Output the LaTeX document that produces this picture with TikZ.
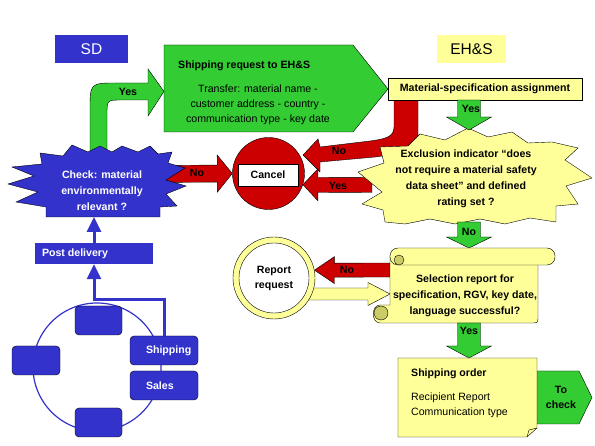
\documentclass[tikz,border=0pt]{standalone}
\usepackage{fontspec}
\setmainfont{Liberation Sans}
\usetikzlibrary{calc,positioning,arrows.meta}

\definecolor{sdblue}{RGB}{51,51,204}
\definecolor{okgreen}{RGB}{51,204,51}
\definecolor{stopred}{RGB}{204,0,0}
\definecolor{memo}{RGB}{255,255,153}
\definecolor{curl}{RGB}{204,204,102}

% block arrow: [style]{from}{to}{half shaft}{half head}{head length}
\newcommand{\barrow}[6][]{%
  \coordinate (bahead) at ($(#3)!#6!(#2)$);
  \filldraw[#1] ($(#2)!#4!90:(#3)$) -- ($(bahead)!#4!90:(#3)$) -- ($(bahead)!#5!90:(#3)$) -- (#3)
    -- ($(bahead)!#5!-90:(#3)$) -- ($(bahead)!#4!-90:(#3)$) -- ($(#2)!#4!-90:(#3)$) -- cycle;}

\tikzset{
  lbl/.style={font=\bfseries\fontsize{10.6}{16}\selectfont, inner sep=0pt, align=center},
  wlbl/.style={lbl, text=white},
  txt/.style={font=\fontsize{10.6}{15}\selectfont, inner sep=0pt, align=center},
  lane/.style={minimum height=28pt, font=\fontsize{15.5}{18}\selectfont},
  memobox/.style={draw, fill=memo},
  bluebox/.style={draw, fill=sdblue, rounded corners=4pt, minimum height=29pt},
  wire/.style={draw=sdblue, line width=3pt, -{Triangle[width=14pt,length=15pt]}},
  redarrow/.style={draw=black, fill=stopred},
  greenarrow/.style={draw=black, fill=okgreen},
  yarrow/.style={draw=black, fill=memo}
}

\begin{document}
\begin{tikzpicture}[x=1pt,y=-1pt]
\useasboundingbox (0,0) rectangle (595,446);

\node[lane, fill=sdblue, minimum width=73pt, text=white] (sd) at (91.5,49) {SD};
\node[lane, fill=memo, minimum width=69pt] (ehs) at (471.5,49) {EH\&S};

% SD cycle
\draw[sdblue, line width=1.2pt] (97,367) circle[radius=64pt];
\node[bluebox, minimum width=48pt] (lbox) at (36,360.5) {};
\node[bluebox, minimum width=47pt] (tbox) at (98.5,320.5) {};
\node[bluebox, minimum width=47pt] (bbox) at (98.5,422.5) {};
\node[bluebox, minimum width=68pt] (ship) at (164,350.5) {};
\node[bluebox, minimum width=68pt] (sales) at (164,385.5) {};
\node[wlbl, right=16pt of ship.west] {Shipping};
\node[wlbl, right=16pt of sales.west] {Sales};

\node[fill=sdblue, minimum width=118pt, minimum height=21pt] (post) at (94,253.5) {};
\node[wlbl, right=7pt of post.west] {Post delivery};
\coordinate (chkbot) at (94,217);
\draw[wire] (ship.north) -- ++(0,-36) -| (post.south);
\draw[wire] (post.north) -- (chkbot);

% shipping request
\filldraw[greenarrow] (164,45) -- (353,45) -- (388,89) -- (353,132) -- (164,132) -- cycle;
\node[lbl, anchor=west] (req) at (178,66) {Shipping request to EH\&S};
\node[txt] (reqtxt) at (258,105) {Transfer: material name -\\customer address - country -\\communication type - key date};

% cancel
\node[circle, draw, fill=stopred, minimum size=72pt, inner sep=0pt] (stop) at (268.5,173.5) {};
\node[draw, fill=white, lbl, minimum width=60pt, minimum height=22pt] (cancel) at (268,175) {Cancel};

\coordinate (no1a) at (150,174);
\barrow[redarrow]{no1a}{stop.west}{8.5pt}{18.5pt}{15pt}
\node[lbl] at (197,173) {No};

\filldraw[greenarrow] (90,160) -- (90,110) .. controls (90,83) .. (117,83) -- (148,83) -- (148,69)
  -- (164,91.5) -- (148,116) -- (148,100) -- (122,100) .. controls (107,100) .. (107,115) -- (107,160) -- cycle;
\node[lbl] at (128,92) {Yes};

% check
\filldraw[fill=sdblue, draw=black] (46,217) -- (160,217) -- (160,207) -- (177,206) -- (166,194) -- (186,186)
  -- (166,180) -- (185,168) -- (168,163) -- (172,152) -- (158,154) -- (150,146) -- (138,152) -- (122,146)
  -- (112,152) -- (100,146) -- (88,152) -- (72,145) -- (63,156) -- (40,153) -- (42,164) -- (12,167)
  -- (34,176) -- (8,184) -- (38,192) -- (16,202) -- (46,207) -- cycle;
\node[wlbl] (check) at (102,191) {Check: material\\environmentally\\relevant ?};

% EH&S
\filldraw[redarrow] (394,100) -- (394,127) .. controls (394,137) and (385,139) .. (370,141) -- (320,147)
  -- (318,139) -- (303,155) -- (320,172) -- (320,162) -- (375,157) .. controls (405,153) and (418,148) .. (418,135)
  -- (418,100) -- cycle;
\node[lbl] at (339,151) {No};
\node[memobox, lbl, minimum width=194pt, minimum height=22pt] (spec) at (485,89) {Material-specification assignment};

\coordinate (yes2a) at (372,185);
\barrow[redarrow]{yes2a}{stop.-18}{7.5pt}{16pt}{15pt}
\node[lbl] at (338,186) {Yes};

\filldraw[fill=memo, draw=black] (468,128) -- (488,137) -- (512,132) -- (528,143) -- (552,142) -- (578,148)
  -- (565,160) -- (592,178) -- (566,186) -- (578,204) -- (556,206) -- (556,222) -- (530,218) -- (505,224)
  -- (480,219) -- (455,224) -- (430,219) -- (405,224) -- (385,222) -- (383,210) -- (362,204) -- (382,192)
  -- (358,172) -- (384,163) -- (380,147) -- (408,146) -- (420,134) -- (445,140) -- cycle;
\node[lbl] (excl) at (466,179) {Exclusion indicator “does\\not require a material safety\\data sheet” and defined\\rating set ?};

\coordinate (g1a) at (469,100);
\coordinate (g1b) at (469,130);
\barrow[greenarrow]{g1a}{g1b}{11.5pt}{22.5pt}{13pt}
\node[lbl] at (471,109) {Yes};
\coordinate (g2a) at (469,222);
\coordinate (g2b) at (469,248);
\barrow[greenarrow]{g2a}{g2b}{11.5pt}{22.5pt}{11pt}
\node[lbl] at (469,232) {No};

% report request
\coordinate (reta) at (300,294);
\coordinate (retb) at (390,294);
\barrow[yarrow]{reta}{retb}{6pt}{11.5pt}{22pt}
\node[circle, draw, fill=memo, minimum size=82pt, inner sep=0pt] (rring) at (274,278) {};
\node[circle, draw, fill=white, minimum size=70pt, inner sep=0pt, lbl, font=\bfseries\fontsize{10.6}{15}\selectfont] (report) at (274,278) {Report\\request};
\coordinate (no3a) at (392,270);
\barrow[redarrow]{no3a}{rring.11}{7pt}{13.5pt}{20pt}
\node[lbl] at (347,270) {No};

% selection report scroll
\filldraw[memobox] (390,256) -- (538,256) -- (538,316) .. controls (538,323) .. (531,323) -- (380,323)
  .. controls (371,323) and (371,305) .. (380,305) -- (390,305) -- cycle;
\filldraw[memobox, rounded corners=8pt] (390,248) rectangle (555,265);
\filldraw[fill=curl] (399,260) circle[radius=5pt];
\filldraw[fill=curl] (381,313) circle[radius=7pt];
\node[lbl] (sel) at (465,296) {Selection report for\\specification, RGV, key date,\\language successful?};

\coordinate (g3a) at (469,323);
\coordinate (g3b) at (469,358);
\barrow[greenarrow]{g3a}{g3b}{11.5pt}{22.5pt}{12pt}
\node[lbl] at (469,331) {Yes};

% shipping order
\filldraw[greenarrow] (537,371) -- (579,371) -- (592,397.5) -- (579,424) -- (537,424) -- cycle;
\node[lbl, font=\bfseries\fontsize{10.6}{15}\selectfont] (tocheck) at (561,397.5) {To\\check};
\filldraw[memobox] (398,358) -- (537,358) -- (537,428) -- (527,437) -- (398,437) -- cycle;
\draw (527,437) -- (529,430) -- (537,428);
\node[lbl, anchor=west] (order) at (411,374) {Shipping order};
\node[txt, align=left, anchor=west] (ordertxt) at (411,405.5) {Recipient Report\\Communication type};
\end{tikzpicture}
\end{document}
